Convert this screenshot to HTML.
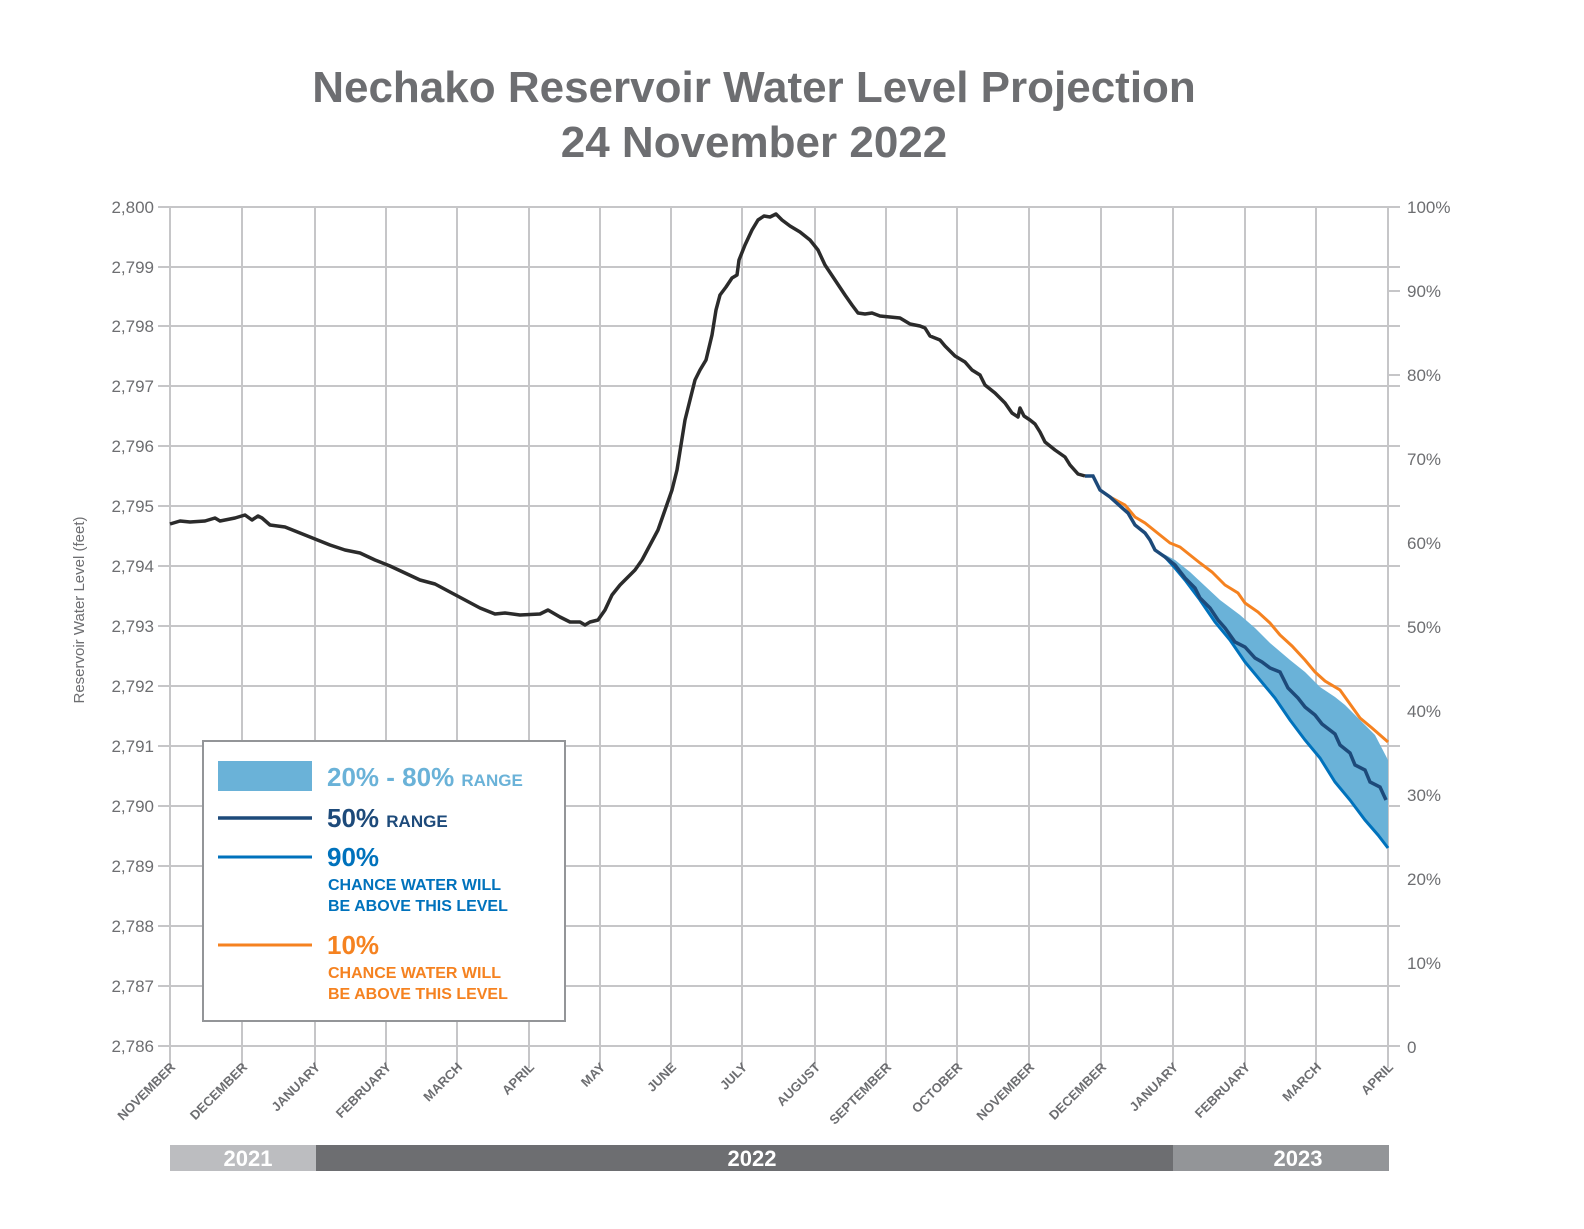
<!DOCTYPE html>
<html><head><style>
body{margin:0;background:#fff;}
svg text{font-family:"Liberation Sans",sans-serif;}
</style></head><body>
<svg width="1584" height="1224" viewBox="0 0 1584 1224" xmlns="http://www.w3.org/2000/svg">
<rect width="1584" height="1224" fill="#fff"/>
<text x="754" y="102" text-anchor="middle" font-size="44" font-weight="bold" fill="#6d6e71">Nechako Reservoir Water Level Projection</text>
<text x="754" y="157" text-anchor="middle" font-size="44" font-weight="bold" fill="#6d6e71">24 November 2022</text>
<g stroke="#c6c6c8" stroke-width="2">
<line x1="158" x2="1400" y1="207" y2="207"/><line x1="158" x2="1400" y1="267" y2="267"/><line x1="158" x2="1400" y1="326" y2="326"/><line x1="158" x2="1400" y1="386" y2="386"/><line x1="158" x2="1400" y1="446" y2="446"/><line x1="158" x2="1400" y1="506" y2="506"/><line x1="158" x2="1400" y1="566" y2="566"/><line x1="158" x2="1400" y1="626" y2="626"/><line x1="158" x2="1400" y1="686" y2="686"/><line x1="158" x2="1400" y1="746" y2="746"/><line x1="158" x2="1400" y1="806" y2="806"/><line x1="158" x2="1400" y1="866" y2="866"/><line x1="158" x2="1400" y1="926" y2="926"/><line x1="158" x2="1400" y1="986" y2="986"/><line x1="158" x2="1400" y1="1046" y2="1046"/>
<line x1="1388" x2="1400" y1="291" y2="291"/><line x1="1388" x2="1400" y1="375" y2="375"/>
<line x1="170" x2="170" y1="207" y2="1068"/><line x1="242" x2="242" y1="207" y2="1068"/><line x1="315" x2="315" y1="207" y2="1068"/><line x1="386" x2="386" y1="207" y2="1068"/><line x1="457" x2="457" y1="207" y2="1068"/><line x1="529" x2="529" y1="207" y2="1068"/><line x1="600" x2="600" y1="207" y2="1068"/><line x1="671" x2="671" y1="207" y2="1068"/><line x1="742" x2="742" y1="207" y2="1068"/><line x1="815" x2="815" y1="207" y2="1068"/><line x1="886" x2="886" y1="207" y2="1068"/><line x1="957" x2="957" y1="207" y2="1068"/><line x1="1029" x2="1029" y1="207" y2="1068"/><line x1="1101" x2="1101" y1="207" y2="1068"/><line x1="1173" x2="1173" y1="207" y2="1068"/><line x1="1245" x2="1245" y1="207" y2="1068"/><line x1="1316" x2="1316" y1="207" y2="1068"/><line x1="1388" x2="1388" y1="207" y2="1068"/>
</g>
<g font-size="17" fill="#6d6e71" text-anchor="end">
<text x="154" y="213">2,800</text><text x="154" y="273">2,799</text><text x="154" y="332">2,798</text><text x="154" y="392">2,797</text><text x="154" y="452">2,796</text><text x="154" y="512">2,795</text><text x="154" y="572">2,794</text><text x="154" y="632">2,793</text><text x="154" y="692">2,792</text><text x="154" y="752">2,791</text><text x="154" y="812">2,790</text><text x="154" y="872">2,789</text><text x="154" y="932">2,788</text><text x="154" y="992">2,787</text><text x="154" y="1052">2,786</text>
</g>
<g font-size="17" fill="#6d6e71">
<text x="1407" y="213">100%</text><text x="1407" y="297">90%</text><text x="1407" y="381">80%</text><text x="1407" y="465">70%</text><text x="1407" y="549">60%</text><text x="1407" y="633">50%</text><text x="1407" y="717">40%</text><text x="1407" y="801">30%</text><text x="1407" y="885">20%</text><text x="1407" y="969">10%</text><text x="1407" y="1053">0</text>
</g>
<text transform="translate(84,610) rotate(-90)" text-anchor="middle" font-size="15" fill="#6d6e71">Reservoir Water Level (feet)</text>
<g font-size="13" font-weight="bold" fill="#6d6e71" text-anchor="end">
<text transform="translate(176,1068) rotate(-45)">NOVEMBER</text><text transform="translate(248,1068) rotate(-45)">DECEMBER</text><text transform="translate(321,1068) rotate(-45)">JANUARY</text><text transform="translate(392,1068) rotate(-45)">FEBRUARY</text><text transform="translate(463,1068) rotate(-45)">MARCH</text><text transform="translate(535,1068) rotate(-45)">APRIL</text><text transform="translate(606,1068) rotate(-45)">MAY</text><text transform="translate(677,1068) rotate(-45)">JUNE</text><text transform="translate(748,1068) rotate(-45)">JULY</text><text transform="translate(821,1068) rotate(-45)">AUGUST</text><text transform="translate(892,1068) rotate(-45)">SEPTEMBER</text><text transform="translate(963,1068) rotate(-45)">OCTOBER</text><text transform="translate(1035,1068) rotate(-45)">NOVEMBER</text><text transform="translate(1107,1068) rotate(-45)">DECEMBER</text><text transform="translate(1179,1068) rotate(-45)">JANUARY</text><text transform="translate(1251,1068) rotate(-45)">FEBRUARY</text><text transform="translate(1322,1068) rotate(-45)">MARCH</text><text transform="translate(1394,1068) rotate(-45)">APRIL</text>
</g>
<rect x="170" y="1145" width="146" height="26" fill="#bcbdc0"/>
<rect x="316" y="1145" width="857" height="26" fill="#6d6e71"/>
<rect x="1173" y="1145" width="216" height="26" fill="#939598"/>
<g font-size="22" font-weight="bold" fill="#fff" text-anchor="middle">
<text x="248" y="1166">2021</text><text x="752" y="1166">2022</text><text x="1298" y="1166">2023</text>
</g>
<polygon fill="#6ab2d8" points="1160,552 1175,560 1190,572 1205,586 1220,600 1240,615 1255,628 1270,643 1290,660 1305,672 1320,687 1335,697 1345,705 1360,720 1375,735 1388,760 1388,848 1378,835 1365,820 1350,800 1335,782 1320,758 1305,740 1290,720 1275,698 1260,680 1245,662 1230,640 1215,622 1200,600 1185,580 1175,568 1165,557"/>
<polyline fill="none" stroke="#0072bc" stroke-width="3" points="1165,557 1175,568 1185,580 1200,600 1215,622 1230,640 1245,662 1260,680 1275,698 1290,720 1305,740 1320,758 1335,782 1350,800 1365,820 1378,835 1388,848"/>
<polyline fill="none" stroke="#f58220" stroke-width="3" points="1110,497 1125,505 1135,517 1145,523 1160,535 1170,543 1180,547 1190,555 1200,563 1212,572 1225,585 1238,593 1245,603 1258,612 1270,623 1280,635 1292,646 1305,660 1315,672 1325,681 1340,690 1350,704 1360,718 1372,728 1388,742"/>
<polyline fill="none" stroke="#1d4a7a" stroke-width="3.5" points="1085,476 1093,476 1100,490 1110,497 1120,506 1128,513 1135,525 1145,533 1150,540 1155,550 1165,557 1175,565 1185,578 1195,588 1200,598 1210,608 1218,620 1225,628 1235,642 1245,647 1255,658 1262,662 1270,668 1280,672 1288,688 1298,698 1305,707 1315,715 1322,724 1335,734 1340,745 1350,753 1355,765 1365,770 1370,782 1380,787 1386,800"/>
<polyline fill="none" stroke="#2b2b2b" stroke-width="3.5" stroke-linejoin="round" points="170,524 180,521 190,522 205,521 215,518 220,521 235,518 245,515 252,520 258,516 262,518 270,525 285,527 300,533 315,539 330,545 345,550 360,553 375,560 390,566 405,573 420,580 435,584 450,592 465,600 480,608 495,614 505,613 520,615 540,614 548,610 560,617 570,622 580,622 585,625 590,622 598,620 605,610 612,595 620,585 628,577 635,570 642,560 650,545 658,530 665,510 672,490 677,470 681,445 685,420 690,400 695,380 700,370 706,360 712,335 716,310 720,295 726,287 732,278 737,275 739,260 745,245 752,230 758,220 764,216 770,217 776,214 782,220 790,226 800,232 810,240 818,250 825,265 835,280 845,295 852,305 858,313 865,314 872,313 880,316 890,317 900,318 910,324 920,326 925,328 930,336 940,340 945,346 955,356 965,362 972,370 980,375 985,385 995,393 1005,403 1012,413 1018,417 1020,408 1024,416 1030,420 1035,424 1040,432 1045,442 1055,450 1065,457 1070,465 1078,474 1085,476"/>
<rect x="203" y="741" width="362" height="280" fill="#fff" stroke="#939598" stroke-width="2"/>
<rect x="218" y="761" width="94" height="30" fill="#6ab2d8"/>
<line x1="218" x2="312" y1="818" y2="818" stroke="#1d4a7a" stroke-width="3.5"/>
<line x1="218" x2="312" y1="857" y2="857" stroke="#0072bc" stroke-width="3"/>
<line x1="218" x2="312" y1="945" y2="945" stroke="#f58220" stroke-width="3"/>
<g font-weight="bold">
<text x="327" y="786" font-size="26" fill="#6ab2d8">20% - 80% <tspan font-size="17">RANGE</tspan></text>
<text x="327" y="827" font-size="26" fill="#1d4a7a">50% <tspan font-size="17">RANGE</tspan></text>
<text x="327" y="866" font-size="26" fill="#0072bc">90%</text>
<text x="328" y="890" font-size="16" fill="#0072bc">CHANCE WATER WILL</text>
<text x="328" y="911" font-size="16" fill="#0072bc">BE ABOVE THIS LEVEL</text>
<text x="327" y="954" font-size="26" fill="#f58220">10%</text>
<text x="328" y="978" font-size="16" fill="#f58220">CHANCE WATER WILL</text>
<text x="328" y="999" font-size="16" fill="#f58220">BE ABOVE THIS LEVEL</text>
</g>
</svg>
</body></html>
